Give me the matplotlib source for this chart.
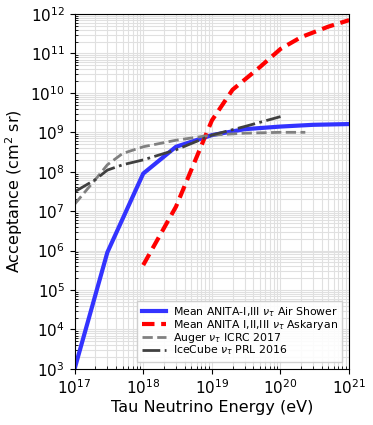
import numpy as np
import matplotlib
matplotlib.use("Agg")
import matplotlib.pyplot as plt

# acceptance curves (energy in eV, acceptance in cm^2 sr)
air_E = [1e17, 3e17, 1e18, 3e18, 1e19, 3e19, 1e20, 3e20, 1e21]
air_A = [1.0e3, 9.0e5, 9.0e7, 4.3e8, 8.5e8, 1.2e9, 1.4e9, 1.55e9, 1.62e9]

ask_E = [1e18, 3e18, 1e19, 2e19, 5e19, 1e20, 2e20, 5e20, 1e21]
ask_A = [4.3e5, 1.3e7, 2.0e9, 1.2e10, 4.5e10, 1.3e11, 2.6e11, 4.8e11, 7.0e11]

auger_E = [1e17, 2e17, 3e17, 5e17, 1e18, 3e18, 1e19, 3e19, 1e20, 2.3e20]
auger_A = [1.5e7, 6.3e7, 1.5e8, 2.9e8, 4.3e8, 6.3e8, 8.5e8, 9.5e8, 1.0e9, 1.0e9]

ice_E = [1e17, 2e17, 3e17, 5e17, 1e18, 3e18, 1e19, 3e19, 1e20]
ice_A = [3.1e7, 6.3e7, 1.1e8, 1.5e8, 2.0e8, 3.6e8, 8.5e8, 1.4e9, 2.5e9]

fig = plt.figure(figsize=(3.73, 4.25), dpi=100)
ax = fig.add_axes([0.2, 0.132, 0.736, 0.835])

ax.plot(air_E, air_A, color=(0.2, 0.2, 1.0), lw=3, label=r'Mean ANITA-I,III $\nu_\tau$ Air Shower')
ax.plot(ask_E, ask_A, color='red', lw=3, ls=(0, (3, 1.6)), label=r'Mean ANITA I,II,III $\nu_\tau$ Askaryan')
ax.plot(auger_E, auger_A, color='gray', lw=2, ls='--', label=r'Auger $\nu_\tau$ ICRC 2017')
ax.plot(ice_E, ice_A, color='#404040', lw=2, ls='-.', label=r'IceCube $\nu_\tau$ PRL 2016')

ax.set_xscale('log')
ax.set_yscale('log')
ax.set_xlim(1e17, 1e21)
ax.set_ylim(1e3, 1e12)
ax.set_xticks([1e17, 1e18, 1e19, 1e20, 1e21])
ax.xaxis.set_minor_formatter(matplotlib.ticker.NullFormatter())
ax.yaxis.set_major_locator(matplotlib.ticker.LogLocator(base=10, numticks=15))
ax.yaxis.set_minor_locator(matplotlib.ticker.LogLocator(base=10, subs=np.arange(2, 10), numticks=15))
ax.yaxis.set_minor_formatter(matplotlib.ticker.NullFormatter())

ax.grid(which='both', color='#e0e0e0', lw=0.8, zorder=0)
ax.set_axisbelow(True)

ax.tick_params(which='major', direction='out', length=3.5, labelsize=11)
ax.tick_params(which='minor', direction='in', length=2.5)
ax.set_xlabel('Tau Neutrino Energy (eV)', fontsize=11.5, labelpad=2)
ax.set_ylabel(r'Acceptance (cm$^2$ sr)', fontsize=11.5)

ax.legend(loc='lower right', fontsize=7.8, handlelength=2.3, labelspacing=-0.1,
          borderpad=0.4, handletextpad=0.6, fancybox=False, framealpha=0.9,
          bbox_to_anchor=(0.995, 0.005))

fig.savefig('out.png', dpi=100)
